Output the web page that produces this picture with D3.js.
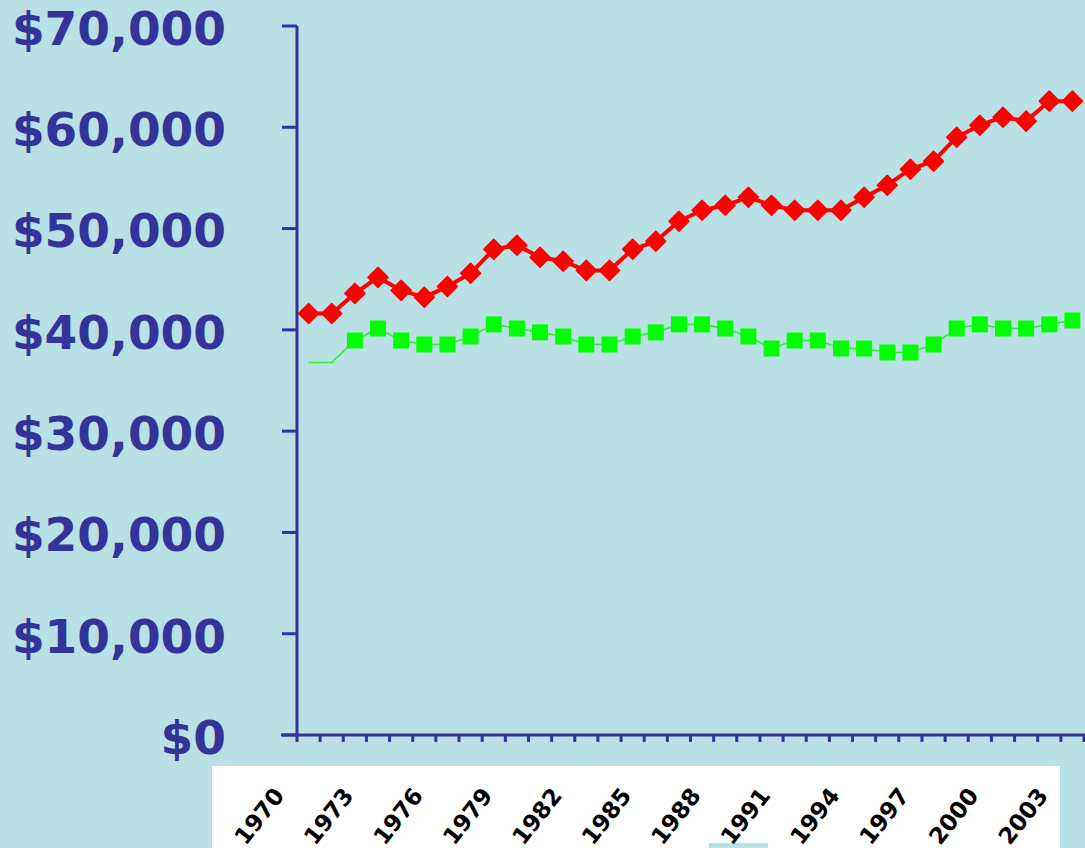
<!DOCTYPE html>
<html>
<head>
<style>
  body { margin: 0; background: #b9e0e4; }
  svg { display: block; }
</style>
</head>
<body>
<div id="chart"></div>
<script src="https://d3js.org/d3.v7.min.js"></script>
<script>
// data
const years = d3.range(1970, 2004)
const yTicks = [0, 10000, 20000, 30000, 40000, 50000, 60000, 70000]
const labelYears = [1970, 1973, 1976, 1979, 1982, 1985, 1988, 1991, 1994, 1997, 2000, 2003]

const redSeries = [41620, 41620, 43600, 45180, 43900, 43210, 44290, 45580, 47950, 48350,
  47160, 46770, 45870, 45870, 47950, 48740, 50720, 51810, 52300, 53090,
  52300, 51810, 51810, 51810, 53090, 54280, 55860, 56650, 59020, 60210,
  61000, 60610, 62580, 62580]
const greenSeries = [36780, 36780, 38950, 40140, 38950, 38560, 38560, 39350, 40540, 40140,
  39750, 39350, 38560, 38560, 39350, 39750, 40540, 40540, 40140, 39350,
  38160, 38950, 38950, 38160, 38160, 37770, 37770, 38560, 40140, 40540,
  40140, 40140, 40540, 40930]
// first two green points are drawn as line only
const greenMarkFrom = 2

const width = 1085, height = 848
const axisColor = "#333399"

const svg = d3.select("#chart").append("svg")
  .attr("width", width)
  .attr("height", height)

svg.append("rect").attr("width", width).attr("height", height).attr("fill", "#b9e0e4")

const x = d3.scaleBand().domain(years).range([297, 1084])
const y = d3.scaleLinear().domain([0, 70000]).range([735, 26])
const cx = d => x(d) + x.bandwidth() / 2

// y axis
svg.append("line")
  .attr("x1", 297).attr("x2", 297)
  .attr("y1", y(70000)).attr("y2", y(0))
  .attr("stroke", axisColor).attr("stroke-width", 3)

svg.append("g").selectAll("line")
  .data(yTicks)
  .enter().append("line")
  .attr("x1", 282).attr("x2", 297)
  .attr("y1", d => y(d)).attr("y2", d => y(d))
  .attr("stroke", axisColor).attr("stroke-width", 3)

svg.append("g").selectAll("text")
  .data(yTicks)
  .enter().append("text")
  .attr("x", 226)
  .attr("y", d => y(d) + 2)
  .attr("dy", "0.36em")
  .attr("text-anchor", "end")
  .attr("font-family", "DejaVu Sans")
  .attr("font-weight", "bold")
  .attr("font-size", 47)
  .attr("fill", axisColor)
  .text(d => "$" + d3.format(",")(d))

// x axis
svg.append("line")
  .attr("x1", 281).attr("x2", width)
  .attr("y1", y(0)).attr("y2", y(0))
  .attr("stroke", axisColor).attr("stroke-width", 3)

svg.append("g").selectAll("line")
  .data(d3.range(years.length + 1))
  .enter().append("line")
  .attr("x1", k => 297 + k * x.bandwidth())
  .attr("x2", k => 297 + k * x.bandwidth())
  .attr("y1", y(0)).attr("y2", y(0) + 7)
  .attr("stroke", axisColor).attr("stroke-width", 3)

// label strip
svg.append("rect")
  .attr("x", 212).attr("y", 766)
  .attr("width", 848).attr("height", 82)
  .attr("fill", "white")
svg.append("rect")
  .attr("x", 709).attr("y", 843)
  .attr("width", 59).attr("height", 5)
  .attr("fill", "#b9e0e4")

svg.append("g").selectAll("text")
  .data(labelYears)
  .enter().append("text")
  .attr("transform", d => `translate(${cx(d) - 36},${786}) rotate(-52)`)
  .attr("text-anchor", "end")
  .attr("dy", "0.7em")
  .attr("font-family", "DejaVu Sans")
  .attr("font-weight", "bold")
  .attr("font-size", 23)
  .attr("fill", "black")
  .text(d => d)

// red series
const line = d3.line().x((d, i) => cx(years[i])).y(d => y(d))

svg.append("path")
  .attr("d", line(redSeries))
  .attr("fill", "none")
  .attr("stroke", "#ff0000")
  .attr("stroke-width", 4)
  .attr("stroke-linejoin", "round")

svg.append("g").selectAll("path")
  .data(redSeries)
  .enter().append("path")
  .attr("d", d3.symbol().type(d3.symbolSquare).size(200))
  .attr("transform", (d, i) => `translate(${cx(years[i])},${y(d)}) rotate(45)`)
  .attr("fill", "#ff0000")
  .attr("stroke", "#ff0000")
  .attr("stroke-width", 1.5)
  .attr("stroke-linejoin", "round")

// green series
svg.append("path")
  .attr("d", line(greenSeries))
  .attr("fill", "none")
  .attr("stroke", "#33ee33")
  .attr("stroke-width", 1.6)

svg.append("g").selectAll("rect")
  .data(greenSeries.map((v, i) => ({ v, i })).filter(d => d.i >= greenMarkFrom))
  .enter().append("rect")
  .attr("x", d => cx(years[d.i]) - 8)
  .attr("y", d => y(d.v) - 8)
  .attr("width", 16).attr("height", 16)
  .attr("fill", "#00ff00")
</script>
</body>
</html>
